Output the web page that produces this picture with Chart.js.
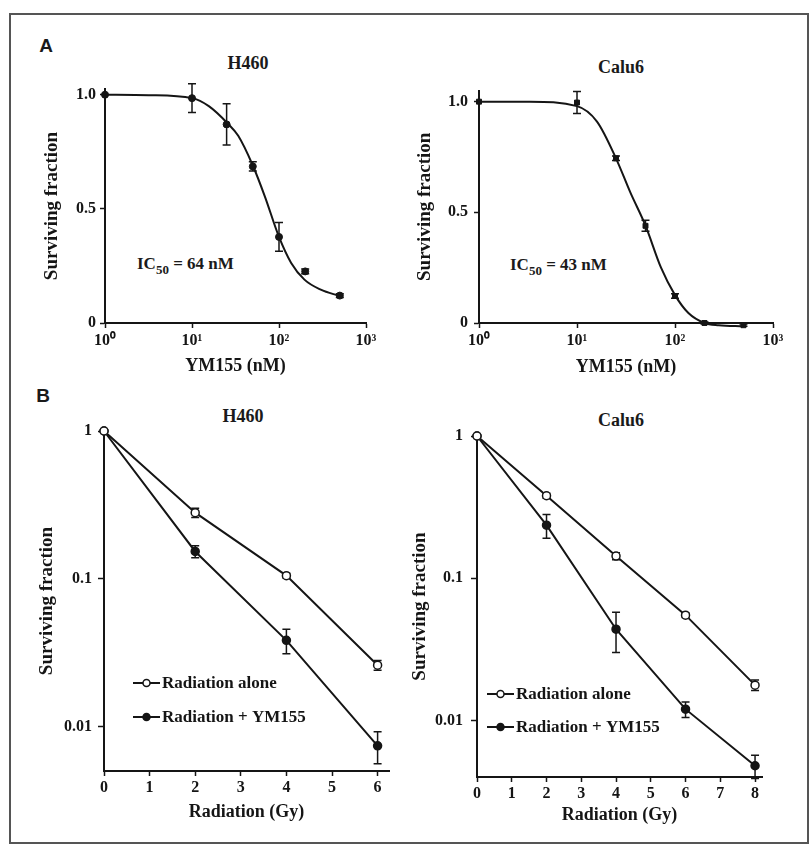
<!DOCTYPE html>
<html><head><meta charset="utf-8">
<script src="https://cdn.jsdelivr.net/npm/chart.js@4.4.1/dist/chart.umd.min.js"></script>
<style>
html,body{margin:0;padding:0;background:#fff;}
#wrap{position:relative;width:811px;height:847px;overflow:hidden;background:#fff;}
#frame{position:absolute;left:9px;top:13px;width:796px;height:827px;border:2px solid #555;}
canvas{position:absolute;}
.t{position:absolute;font-family:'Liberation Serif','Times New Roman',serif;font-weight:bold;color:#1a1a1a;white-space:nowrap;transform:translate(-50%,-50%);font-size:18px;line-height:1;}
.letter{position:absolute;font-family:'Liberation Sans',Arial,sans-serif;font-weight:bold;color:#1a1a1a;font-size:19px;line-height:1;transform:translate(-50%,-50%);}
.ic{position:absolute;font-family:'Liberation Serif','Times New Roman',serif;font-weight:bold;color:#1a1a1a;white-space:nowrap;font-size:17px;line-height:1;transform:translateY(-50%);}
.ic sub{font-size:13px;vertical-align:-5px;line-height:0;}
</style></head>
<body><div id="wrap">
<div id="frame"></div>
<div class="letter" style="left:46px;top:45px">A</div>
<div class="letter" style="left:43px;top:395px">B</div>
<div class="t" style="left:248px;top:63px">H460</div>
<div class="t" style="left:621px;top:67px">Calu6</div>
<div class="t" style="left:243px;top:416px">H460</div>
<div class="t" style="left:621px;top:420px">Calu6</div>
<div class="ic" style="left:137px;top:263px">IC<sub>50</sub> = 64 nM</div>
<div class="ic" style="left:510px;top:264px">IC<sub>50</sub> = 43 nM</div>
<canvas id="cA1"></canvas>
<canvas id="cA2"></canvas>
<canvas id="cB1"></canvas>
<canvas id="cB2"></canvas>
</div>
<script>
// ---------- Data ----------
// Panel A: YM155 dose response
const doseA = [1, 10, 25, 50, 100, 200, 500];
const h460SfA = [1.0, 0.985, 0.87, 0.686, 0.377, 0.226, 0.12];
const h460ErrA = [0, 0.063, 0.09, 0.02, 0.063, 0.01, 0.008];
const h460FitDose = [1, 3.2, 10, 15.6, 25.9, 34, 50, 68.7, 100, 138, 196, 302, 500];
const h460FitSf = [1.0, 0.998, 0.985, 0.95, 0.873, 0.82, 0.69, 0.555, 0.377, 0.263, 0.19, 0.146, 0.118];

const calu6SfA = [1.0, 0.996, 0.744, 0.439, 0.122, 0.0, -0.01];
const calu6ErrA = [0, 0.05, 0.01, 0.025, 0.01, 0.005, 0.005];
const calu6FitDose = [1, 3.3, 10, 16, 25, 35, 50, 72, 100, 137, 200, 280, 500];
const calu6FitSf = [1.0, 1.0, 0.98, 0.91, 0.744, 0.59, 0.44, 0.25, 0.126, 0.045, 0.0, -0.01, -0.015];

const xTicksA = [1, 10, 100, 1000];
const xTickLabelsA = ['10\u2070', '10\u00B9', '10\u00B2', '10\u00B3'];
const yTicksA = [0, 0.5, 1];
const yTickLabelsA = ['0', '0.5', '1.0'];

// Panel B: radiation survival
const doseH460B = [0, 2, 4, 6];
const h460Alone = [1, 0.28, 0.105, 0.026];
const h460AloneErr = [0, 0.02, 0.004, 0.002];
const h460Ym = [1, 0.153, 0.0383, 0.0074];
const h460YmErr = [0, 0.014, 0.0072, 0.0018];

const doseCalu6B = [0, 2, 4, 6, 8];
const calu6Alone = [1, 0.38, 0.143, 0.055, 0.0177];
const calu6AloneErr = [0, 0.015, 0.008, 0.002, 0.0015];
const calu6Ym = [1, 0.236, 0.0438, 0.012, 0.0048];
const calu6YmErr = [0, 0.045, 0.0138, 0.0015, 0.0009];

const xTicksH460B = [0, 1, 2, 3, 4, 5, 6];
const xTicksCalu6B = [0, 1, 2, 3, 4, 5, 6, 7, 8];
const yTicksB = [0.01, 0.1, 1];
const yTickLabelsB = ['0.01', '0.1', '1'];

const seriesLabels = ['Radiation alone', 'Radiation + YM155'];

// ---------- Helpers ----------
const INK = '#151515';
const SERIF = "'Liberation Serif','Times New Roman',serif";
const pts = (xs, ys) => xs.map((x, i) => ({x: x, y: ys[i]}));

const errorBars = {
  id: 'errorBars',
  beforeDatasetsDraw(chart) {
    const {ctx} = chart; const ys = chart.scales.y;
    chart.data.datasets.forEach((ds, i) => {
      if (!ds.errors) return;
      const meta = chart.getDatasetMeta(i);
      ctx.save(); ctx.strokeStyle = INK; ctx.lineWidth = 1.5;
      meta.data.forEach((pt, j) => {
        const e = ds.errors[j]; if (!e) return;
        const v = ds.data[j].y;
        const yT = ys.getPixelForValue(v + e), yB = ys.getPixelForValue(v - e);
        const x = pt.x, c = 4;
        ctx.beginPath();
        ctx.moveTo(x, yT); ctx.lineTo(x, yB);
        ctx.moveTo(x - c, yT); ctx.lineTo(x + c, yT);
        ctx.moveTo(x - c, yB); ctx.lineTo(x + c, yB);
        ctx.stroke();
      });
      ctx.restore();
    });
  }
};

const innerLegend = {
  id: 'innerLegend',
  afterDraw(chart, args, opts) {
    if (!opts || !opts.display) return;
    const {ctx, chartArea} = chart;
    let row = 0;
    chart.data.datasets.forEach((ds) => {
      if (!ds.label) return;
      const y = chartArea.top + opts.dy + row * opts.gap;
      const x0 = chartArea.left + opts.dx;
      ctx.save();
      ctx.strokeStyle = INK; ctx.lineWidth = 2;
      ctx.beginPath(); ctx.moveTo(x0, y); ctx.lineTo(x0 + opts.lineLen, y); ctx.stroke();
      ctx.beginPath(); ctx.arc(x0 + opts.lineLen / 2, y, opts.r, 0, Math.PI * 2);
      ctx.fillStyle = ds.pointBackgroundColor; ctx.fill();
      ctx.lineWidth = 1.5; ctx.stroke();
      ctx.fillStyle = INK; ctx.font = opts.font;
      ctx.textBaseline = 'middle'; ctx.textAlign = 'left';
      ctx.fillText(ds.label, x0 + opts.lineLen + 2, y + 1);
      ctx.restore();
      row++;
    });
  }
};
Chart.register(errorBars, innerLegend);

function makeChart(id, box, area, cfg) {
  const cv = document.getElementById(id);
  cv.width = box.w; cv.height = box.h;
  cv.style.left = box.x + 'px'; cv.style.top = box.y + 'px';
  cv.style.width = box.w + 'px'; cv.style.height = box.h + 'px';
  const yW = area.left - box.x - cfg.padLeft;
  const padding = {
    left: cfg.padLeft,
    top: area.top - box.y,
    right: box.x + box.w - area.right,
    bottom: box.y + box.h - area.bottom - cfg.xH
  };
  const tickFont = {family: SERIF, weight: 'bold', size: 16};
  return new Chart(cv, {
    type: 'scatter',
    data: {datasets: cfg.datasets},
    options: {
      responsive: false, animation: false, devicePixelRatio: 1,
      layout: {padding: padding},
      plugins: {legend: {display: false}, tooltip: {enabled: false},
        innerLegend: cfg.legend || {display: false}},
      scales: {
        x: Object.assign({
          position: 'bottom',
          afterBuildTicks: s => { s.ticks = cfg.xTicks.map(v => ({value: v})); },
          afterFit: s => { s.height = cfg.xH; },
          ticks: {font: tickFont, color: INK, padding: cfg.xTickPad, autoSkip: false, maxRotation: 0,
            callback: (v, i) => cfg.xLabels[i]},
          grid: {display: true, drawOnChartArea: false, drawTicks: true, tickLength: 5, tickWidth: 1.5, tickColor: INK},
          border: {display: true, color: INK, width: 2},
          title: {display: true, text: cfg.xTitle, color: INK,
            font: {family: SERIF, weight: 'bold', size: 18}, padding: {top: 0, bottom: cfg.xTitlePad}}
        }, cfg.xScale),
        y: Object.assign({
          position: 'left',
          afterBuildTicks: s => { s.ticks = cfg.yTicks.map(v => ({value: v})); },
          afterFit: s => { s.width = yW; },
          ticks: {font: tickFont, color: INK, padding: cfg.yTickPad, autoSkip: false,
            callback: (v, i) => cfg.yLabels[i]},
          grid: {display: true, drawOnChartArea: false, drawTicks: true, tickLength: cfg.yTickLen, tickWidth: 1.5, tickColor: INK},
          border: {display: true, color: INK, width: 2},
          title: {display: true, text: 'Surviving fraction', color: INK,
            font: {family: SERIF, weight: 'bold', size: 19}, padding: {top: cfg.yTitlePad, bottom: 0}}
        }, cfg.yScale)
      }
    }
  });
}

function doseDatasets(xs, ys, errs, fitX, fitY, style) {
  return [
    {data: pts(fitX, fitY), showLine: true, borderColor: INK, borderWidth: 2, pointRadius: 0,
     cubicInterpolationMode: 'monotone', clip: false},
    {data: pts(xs, ys), errors: errs, showLine: false, pointStyle: style, pointRadius: 3.5,
     pointBackgroundColor: INK, pointBorderColor: INK, pointBorderWidth: 1, clip: false}
  ];
}
function radDatasets(xs, alone, aloneErr, ym, ymErr) {
  return [
    {label: seriesLabels[0], data: pts(xs, alone), errors: aloneErr, showLine: true, borderColor: INK, borderWidth: 2,
     pointRadius: 4, pointBackgroundColor: '#ffffff', pointBorderColor: INK, pointBorderWidth: 1.5, clip: false},
    {label: seriesLabels[1], data: pts(xs, ym), errors: ymErr, showLine: true, borderColor: INK, borderWidth: 2,
     pointRadius: 4, pointBackgroundColor: INK, pointBorderColor: INK, pointBorderWidth: 1.5, clip: false}
  ];
}

// Panel A - H460
makeChart('cA1', {x: 0, y: 75, w: 400, h: 305}, {left: 105, top: 89, right: 366, bottom: 323}, {
  padLeft: 30, xH: 55, yTitlePad: 10.6, xTitlePad: 1.2, xTickPad: 3, yTickPad: 4, yTickLen: 5,
  xTicks: xTicksA, xLabels: xTickLabelsA, yTicks: yTicksA, yLabels: yTickLabelsA, xTitle: 'YM155 (nM)',
  xScale: {type: 'logarithmic', min: 1, max: 1000}, yScale: {type: 'linear', min: 0, max: 1.025},
  datasets: doseDatasets(doseA, h460SfA, h460ErrA, h460FitDose, h460FitSf, 'circle')
});
// Panel A - Calu6
makeChart('cA2', {x: 400, y: 75, w: 411, h: 305}, {left: 479, top: 87, right: 773, bottom: 323}, {
  padLeft: 10, xH: 55, yTitlePad: 3.6, xTitlePad: 0, xTickPad: 3, yTickPad: 6, yTickLen: 5,
  xTicks: xTicksA, xLabels: xTickLabelsA, yTicks: yTicksA, yLabels: yTickLabelsA, xTitle: 'YM155 (nM)',
  xScale: {type: 'logarithmic', min: 1, max: 1000}, yScale: {type: 'linear', min: 0, max: 1.05},
  datasets: doseDatasets(doseA, calu6SfA, calu6ErrA, calu6FitDose, calu6FitSf, 'rect')
});
// Panel B - H460
makeChart('cB1', {x: 0, y: 390, w: 400, h: 445}, {left: 104, top: 431, right: 389, bottom: 771}, {
  padLeft: 20, xH: 55, yTitlePad: 15.6, xTitlePad: 3.2, xTickPad: 2, yTickPad: 6, yTickLen: 6,
  xTicks: xTicksH460B, xLabels: xTicksH460B.map(String), yTicks: yTicksB, yLabels: yTickLabelsB, xTitle: 'Radiation (Gy)',
  xScale: {type: 'linear', min: 0, max: 6.25}, yScale: {type: 'logarithmic', min: 0.005, max: 1},
  datasets: radDatasets(doseH460B, h460Alone, h460AloneErr, h460Ym, h460YmErr),
  legend: {display: true, dx: 29, dy: 252, gap: 34, lineLen: 27, r: 3.5, font: "bold 17px 'Liberation Serif', serif"}
});
// Panel B - Calu6
makeChart('cB2', {x: 400, y: 390, w: 411, h: 445}, {left: 477, top: 436, right: 762, bottom: 777}, {
  padLeft: 5, xH: 55, yTitlePad: 3.6, xTitlePad: 6.2, xTickPad: 2, yTickPad: 8, yTickLen: 6,
  xTicks: xTicksCalu6B, xLabels: xTicksCalu6B.map(String), yTicks: yTicksB, yLabels: yTickLabelsB, xTitle: 'Radiation (Gy)',
  xScale: {type: 'linear', min: 0, max: 8.2}, yScale: {type: 'logarithmic', min: 0.004, max: 1},
  datasets: radDatasets(doseCalu6B, calu6Alone, calu6AloneErr, calu6Ym, calu6YmErr),
  legend: {display: true, dx: 10, dy: 258, gap: 33, lineLen: 27, r: 3.5, font: "bold 17px 'Liberation Serif', serif"}
});
</script>
</body></html>
